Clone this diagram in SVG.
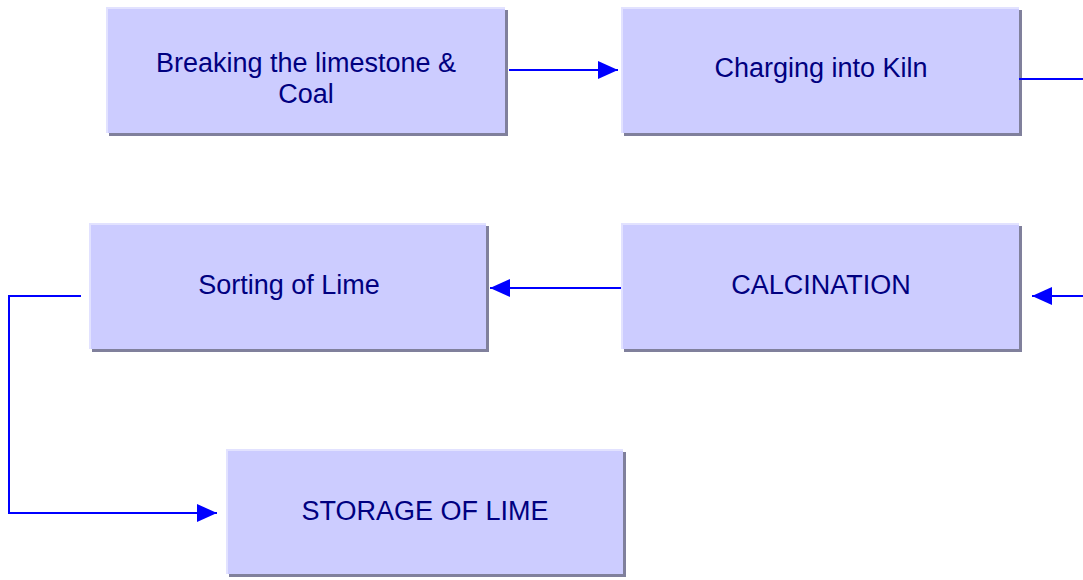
<svg xmlns="http://www.w3.org/2000/svg" width="1083" height="580" viewBox="0 0 1083 580">
  <defs>
    <marker id="arrow" viewBox="0 0 20 18" refX="20" refY="9" markerWidth="20" markerHeight="18" markerUnits="userSpaceOnUse" orient="auto">
      <path d="M0,0 L20,9 L0,18 Z" fill="#0000ff"/>
    </marker>
  </defs>
  <style>
    .shadow { fill: #80809c; }
    .box { fill: #ccccff; }
    .hl { stroke: #e2e2ff; stroke-width: 2; fill: none; }
    .label { font-family: "Liberation Sans", Arial, sans-serif; font-size: 27px; fill: #000080; text-anchor: middle; }
    .conn { stroke: #0000ff; stroke-width: 2; fill: none; }
  </style>
  <rect width="1083" height="580" fill="#ffffff"/>

  <g id="breaking">
    <rect class="shadow" x="109" y="10" width="399" height="126"/>
    <rect class="box" x="106" y="7" width="399" height="126"/>
    <path class="hl" d="M107,133 V8 H505"/>
    <text class="label" x="306" y="72">Breaking the limestone &amp;</text>
    <text class="label" x="306" y="103">Coal</text>
  </g>

  <g id="charging">
    <rect class="shadow" x="624" y="10" width="398" height="126"/>
    <rect class="box" x="621" y="7" width="398" height="126"/>
    <path class="hl" d="M622,133 V8 H1019"/>
    <text class="label" x="821" y="77">Charging into Kiln</text>
  </g>

  <g id="sorting">
    <rect class="shadow" x="92" y="226" width="397" height="126"/>
    <rect class="box" x="89" y="223" width="397" height="126"/>
    <path class="hl" d="M90,349 V224 H486"/>
    <text class="label" x="289" y="294">Sorting of Lime</text>
  </g>

  <g id="calcination">
    <rect class="shadow" x="624" y="226" width="398" height="126"/>
    <rect class="box" x="621" y="223" width="398" height="126"/>
    <path class="hl" d="M622,349 V224 H1019"/>
    <text class="label" x="821" y="294">CALCINATION</text>
  </g>

  <g id="storage">
    <rect class="shadow" x="229" y="452" width="397" height="125"/>
    <rect class="box" x="226" y="449" width="397" height="125"/>
    <path class="hl" d="M227,574 V450 H623"/>
    <text class="label" x="425" y="520">STORAGE OF LIME</text>
  </g>

  <g id="connectors">
    <line class="conn" x1="509" y1="70" x2="618" y2="70" marker-end="url(#arrow)"/>
    <line class="conn" x1="1019" y1="79" x2="1083" y2="79"/>
    <line class="conn" x1="1083" y1="296" x2="1032" y2="296" marker-end="url(#arrow)"/>
    <line class="conn" x1="621" y1="288" x2="490" y2="288" marker-end="url(#arrow)"/>
    <polyline class="conn" points="81,296 9,296 9,513 217,513" marker-end="url(#arrow)"/>
  </g>
</svg>
